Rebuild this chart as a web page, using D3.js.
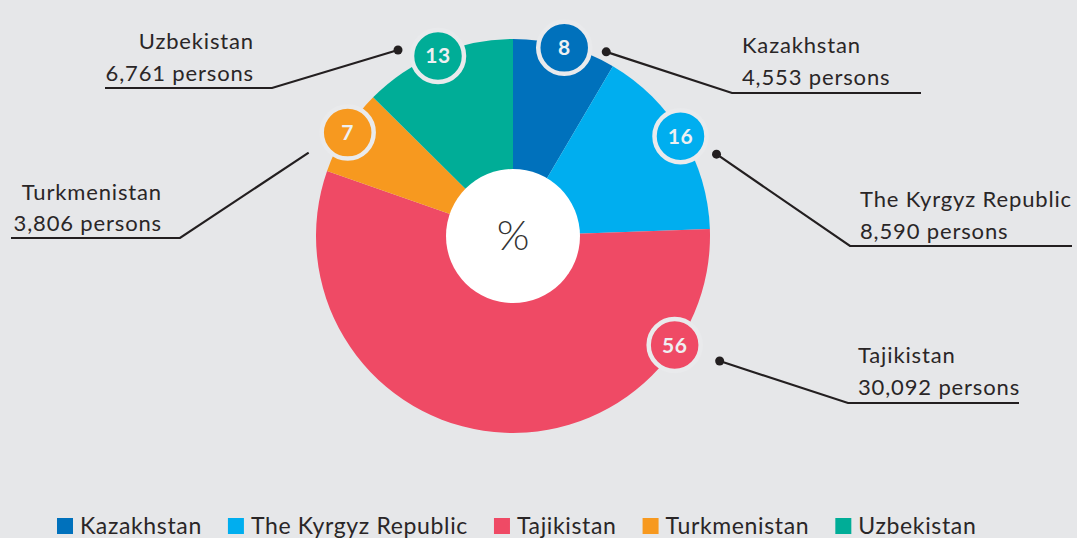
<!DOCTYPE html>
<html>
<head>
<meta charset="utf-8">
<script src="https://cdn.jsdelivr.net/npm/d3@7"></script>
<style>
  body { margin: 0; background: #e6e7e9; }
  svg { display: block; font-family: Lato, "Open Sans", sans-serif; }
</style>
</head>
<body>
<div id="chart"></div>
<script>
// data
const countries = ["Kazakhstan", "The Kyrgyz Republic", "Tajikistan", "Turkmenistan", "Uzbekistan"];
const persons = [4553, 8590, 30092, 3806, 6761];
const colors = ["#0071bc", "#00aeef", "#ef4a65", "#f7991f", "#00ad97"];

const width = 1077, height = 538;
const cx = 513, cy = 236, radius = 197, hole = 67;

const svg = d3.select("#chart").append("svg")
    .attr("width", width)
    .attr("height", height);

svg.append("rect").attr("width", width).attr("height", height).attr("fill", "#e6e7e9");

const total = d3.sum(persons);
const rows = countries.map((c, i) => ({ name: c, value: persons[i], color: colors[i] }));

const pie = d3.pie().sort(null).value(d => d.value);
const arcs = pie(rows);
const arc = d3.arc().innerRadius(0).outerRadius(radius);

const g = svg.append("g").attr("transform", `translate(${cx},${cy})`);

g.selectAll("path.slice")
    .data(arcs)
    .join("path")
    .attr("class", "slice")
    .attr("d", arc)
    .attr("fill", d => d.data.color);

g.append("circle").attr("r", hole).attr("fill", "#fff");
g.append("text")
    .attr("y", 14)
    .attr("text-anchor", "middle")
    .attr("font-size", 42)
    .attr("font-weight", 300)
    .attr("fill", "#333")
    .text("%");

// leader / label layout (annotation placement, tuned by eye)
const layout = {
    "Kazakhstan":          { angle: null, dot: [42, 4],   elbow: [732, 93],  end: 921,  tx: 742, anchor: "start", y1: 53,  y2: 85 },
    "The Kyrgyz Republic": { angle: null, dot: [36, 18],  elbow: [850, 246], end: 1072, tx: 860, anchor: "start", y1: 207, y2: 239 },
    "Tajikistan":          { angle: 124,  dot: [45, 16],  elbow: [848, 403], end: 1019, tx: 858, anchor: "start", y1: 363, y2: 395 },
    "Turkmenistan":        { angle: null, dot: [-39, 20], elbow: [180, 238], end: 11,   tx: 162, anchor: "end",   y1: 200, y2: 231, noDot: true },
    "Uzbekistan":          { angle: null, dot: [-40, -6], elbow: [272, 88],  end: 105,  tx: 254, anchor: "end",   y1: 49,  y2: 81 }
};

const badgeR = 195;
arcs.forEach(d => {
    const L = layout[d.data.name];
    const a = L.angle != null ? L.angle * Math.PI / 180 : (d.startAngle + d.endAngle) / 2;
    d.bx = cx + badgeR * Math.sin(a);
    d.by = cy - badgeR * Math.cos(a);
    d.L = L;
});

const lines = svg.append("g");
arcs.forEach(d => {
    const L = d.L;
    const dx = d.bx + L.dot[0], dy = d.by + L.dot[1];
    lines.append("path")
        .attr("d", `M${dx},${dy}L${L.elbow[0]},${L.elbow[1]}L${L.end},${L.elbow[1]}`)
        .attr("fill", "none")
        .attr("stroke", "#231f20")
        .attr("stroke-width", 2.2);
    if (!L.noDot) {
        lines.append("circle").attr("cx", dx).attr("cy", dy).attr("r", 4.5).attr("fill", "#231f20");
    }
    const t = lines.append("text")
        .attr("text-anchor", L.anchor)
        .attr("font-size", 22)
        .attr("letter-spacing", 0.85)
        .attr("fill", "#2a2627");
    t.append("tspan").attr("x", L.tx).attr("y", L.y1).text(d.data.name);
    t.append("tspan").attr("x", L.tx).attr("y", L.y2).text(d3.format(",")(d.data.value) + " persons");
});

const badges = svg.selectAll("g.badge")
    .data(arcs)
    .join("g")
    .attr("class", "badge")
    .attr("transform", d => `translate(${d.bx},${d.by})`);

badges.append("circle")
    .attr("r", 26)
    .attr("fill", d => d.data.color)
    .attr("stroke", "#e9eaec")
    .attr("stroke-width", 4.5);

badges.append("text")
    .attr("text-anchor", "middle")
    .attr("y", 7.5)
    .attr("font-size", 21)
    .attr("font-weight", 700)
    .attr("letter-spacing", 0.5)
    .attr("fill", "#eef0f2")
    .text(d => Math.round(d.data.value / total * 100));

// legend
const legend = svg.append("g");
let lx = 57;
rows.forEach(r => {
    legend.append("rect")
        .attr("x", lx).attr("y", 518)
        .attr("width", 16).attr("height", 16)
        .attr("fill", r.color);
    const txt = legend.append("text")
        .attr("x", lx + 23).attr("y", 534)
        .attr("font-size", 23)
        .attr("letter-spacing", 0.65)
        .attr("fill", "#2a2627")
        .text(r.name);
    lx += 23 + txt.node().getComputedTextLength() + 26;
});
</script>
</body>
</html>
